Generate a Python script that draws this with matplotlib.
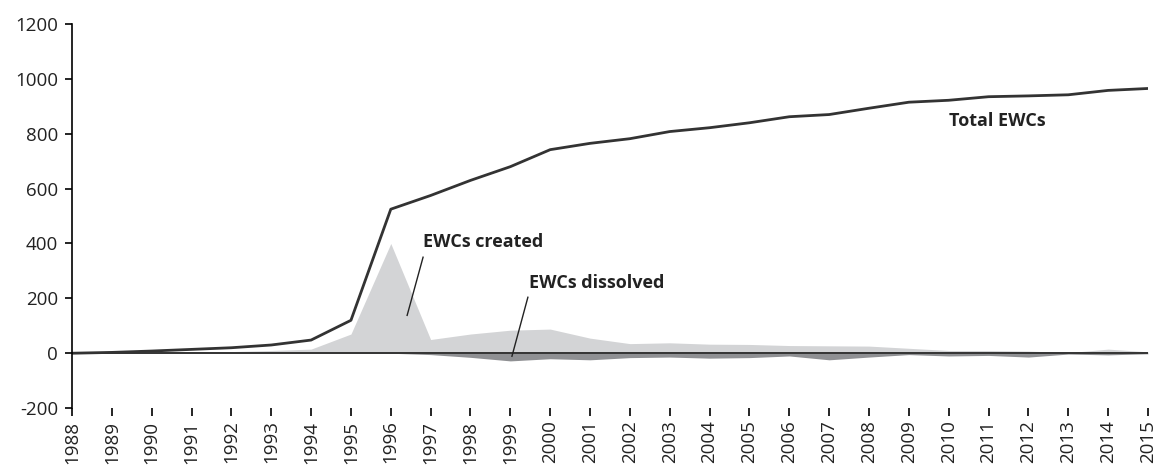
import matplotlib
matplotlib.use('Agg')
import matplotlib.pyplot as plt

years = list(range(1988, 2016))
total = [0, 3, 8, 14, 20, 30, 48, 120, 525, 575, 630, 680, 742, 765, 782, 808,
         822, 840, 862, 870, 893, 915, 922, 935, 938, 942, 958, 965]
created = [0, 2, 4, 6, 6, 10, 15, 70, 400, 50, 70, 84, 88, 55, 35, 38,
           33, 32, 28, 27, 26, 18, 10, 10, 8, 2, 15, 5]
dissolved = [0, 0, 0, 0, 0, 0, 0, 0, 0, -5, -15, -28, -20, -24, -16, -14,
             -18, -16, -10, -24, -14, -5, -10, -8, -14, -3, -6, -2]

plt.rcParams['font.family'] = ['Open Sans', 'DejaVu Sans']
plt.rcParams['axes.unicode_minus'] = False

fig = plt.figure(figsize=(11.59, 4.68), dpi=100)
ax = fig.add_axes([0.0621, 0.128, 0.9284, 0.8207])

ax.fill_between(years, 0, created, color='#d3d4d6', lw=0)
ax.fill_between(years, 0, dissolved, color='#8f9093', lw=0)
ax.axhline(0, color='#333333', lw=1.4)
ax.plot(years, total, color='#333333', lw=2)

ax.set_xlim(1988, 2015)
ax.set_ylim(-200, 1200)
ax.set_yticks(range(-200, 1201, 200))
ax.set_xticks(years)
ax.set_xticklabels([str(y) for y in years], rotation=90, fontsize=13.5)
ax.tick_params(axis='y', labelsize=13.5, length=5, width=1.2, pad=5,
               labelcolor='#222222')
ax.tick_params(axis='x', length=6, width=1.2, pad=3, labelcolor='#222222')

for s in ['top', 'right', 'bottom']:
    ax.spines[s].set_visible(False)
ax.spines['left'].set_linewidth(1.2)

ax.text(1996.81, 404, 'EWCs created', fontsize=13, fontweight='bold',
        color='#222222', va='center')
ax.plot([1996.81, 1996.41], [350, 138], color='#222222', lw=1)
ax.text(1999.47, 255, 'EWCs dissolved', fontsize=13, fontweight='bold',
        color='#222222', va='center')
ax.plot([1999.44, 1999.04], [204, -11], color='#222222', lw=1)
ax.text(2010.0, 845, 'Total EWCs', fontsize=13, fontweight='bold',
        color='#222222', va='center')

plt.savefig('out.png')
